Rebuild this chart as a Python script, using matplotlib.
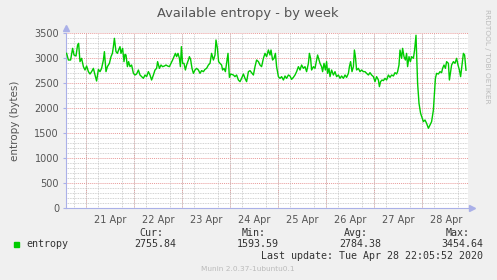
import numpy as np
import matplotlib
matplotlib.use('Agg')
import matplotlib.pyplot as plt
from matplotlib.ticker import MultipleLocator

# hours since 21 Apr 00:00, available entropy (bytes)
hours = [-9.7, -8.8, -7.7, -6.7, -6.0, -5.0, -4.2, -3.7, -3.0, -2.2, -1.3, -0.5,
         0.3, 1.2, 2.0, 2.8, 3.7, 4.5, 5.3, 6.2, 7.0, 7.8, 8.7, 9.2, 10.0, 10.7,
         11.7, 12.5, 13.2, 13.7, 14.2, 15.0, 15.7, 16.3, 17.0, 17.5, 18.3, 19.0,
         19.5, 20.0, 20.7, 21.3, 22.0, 22.8, 23.7, 24.5, 25.3, 26.2, 27.0, 27.8,
         28.7, 29.5, 30.3, 31.2, 32.0, 32.8, 33.7, 34.5, 35.3, 35.8, 36.7, 37.5,
         38.3, 39.2, 40.0, 40.8, 41.7, 42.5, 43.3, 44.0, 44.7, 45.3, 46.0, 46.7,
         47.2, 47.7, 48.3, 49.0, 49.7, 50.3, 51.2, 51.7, 52.3, 53.0, 53.7, 54.5,
         55.3, 56.2, 57.0, 57.8, 58.7, 59.5, 60.3, 61.2, 62.0, 62.8, 63.7, 64.5,
         65.0, 65.7, 66.3, 67.0, 67.8, 68.3, 69.0, 69.7, 70.3, 71.0, 71.7, 72.3,
         73.7, 74.5, 75.3, 76.2, 77.0, 77.8, 78.7, 79.5, 80.3, 81.2, 82.0, 82.8,
         83.7, 84.5, 85.3, 86.2, 87.0, 87.8, 88.7, 89.5, 90.3, 91.2, 92.0, 92.5,
         93.3, 94.0, 94.7, 95.3, 96.2, 97.0, 97.8, 98.7, 99.5, 100.3, 101.2, 102.0,
         102.8, 103.7, 104.5, 105.3, 106.2, 107.0, 107.8, 108.7, 109.5, 110.3,
         111.2, 111.7, 112.3, 112.8, 113.7, 114.5, 115.3, 115.8, 116.3, 117.0,
         117.8, 118.3, 119.0, 119.7, 120.3, 120.8, 121.5, 122.0, 122.8, 123.7,
         124.5, 125.3, 126.2, 127.0, 127.8, 128.7, 129.5, 130.3, 131.2, 131.7,
         132.3, 133.0, 133.7, 134.2, 134.7, 135.3, 136.2, 137.0, 137.8, 138.7,
         139.5, 140.3, 141.2, 142.0, 142.8, 143.7, 144.5, 145.3, 146.2, 146.7,
         147.3, 148.0, 148.7, 149.5, 150.3, 151.2, 152.0, 152.8, 153.7, 154.5,
         155.3, 155.8, 156.5, 157.0, 157.8, 158.3, 159.0, 159.7, 160.3, 160.8,
         161.5, 162.2, 162.8, 163.7, 164.3, 165.0, 165.3, 165.8, 166.5, 167.3,
         168.7, 169.5, 170.3, 171.2, 172.0, 172.8, 173.3, 173.7, 174.2, 174.7,
         175.3, 176.2, 177.0, 177.8, 178.3, 179.0, 179.7, 180.3, 181.2, 181.7,
         182.3, 182.8, 183.7, 184.5, 185.3, 186.0, 186.7, 187.3, 188.0, 188.7,
         189.3, 190.0]
entropy = [3093, 2960, 2960, 3193, 3060, 3040, 3260, 3293, 2927, 2993, 2827, 2760,
           2840, 2727, 2680, 2727, 2793, 2660, 2540, 2773, 2727, 2793, 2960, 3127,
           2727, 2827, 2893, 3027, 3093, 3227, 3393, 3127, 3093, 3160, 3227, 3093,
           3193, 2927, 3073, 3060, 2827, 2927, 2827, 2860, 2693, 2660, 2680, 2760,
           2660, 2627, 2593, 2660, 2627, 2727, 2660, 2560, 2660, 2760, 2793, 2927,
           2793, 2860, 2827, 2840, 2860, 2840, 2827, 2893, 2960, 3027, 3093, 3027,
           3093, 2993, 2827, 3227, 2893, 2893, 2760, 2860, 2960, 3027, 2973, 2793,
           2693, 2760, 2793, 2760, 2693, 2747, 2727, 2773, 2793, 2860, 2893, 3093,
           2960, 3060, 3360, 3193, 2927, 2893, 2860, 2760, 2793, 2727, 2893, 3093,
           2613, 2680, 2660, 2627, 2660, 2560, 2527, 2593, 2680, 2593, 2527, 2727,
           2747, 2707, 2660, 2827, 2960, 2927, 2860, 2827, 2993, 3093, 3027, 3160,
           3060, 3160, 2960, 2993, 3093, 2827, 2627, 2593, 2627, 2560, 2640, 2593,
           2660, 2640, 2573, 2613, 2660, 2727, 2827, 2760, 2860, 2793, 2827, 2727,
           2893, 3093, 2993, 2760, 2827, 2793, 2960, 3060, 2993, 2893, 2827, 2727,
           2893, 2760, 2927, 2693, 2793, 2627, 2760, 2660, 2727, 2627, 2660, 2593,
           2640, 2593, 2660, 2613, 2693, 2827, 2927, 2727, 2827, 3160, 3027, 2760,
           2793, 2727, 2760, 2727, 2727, 2693, 2660, 2707, 2660, 2627, 2527, 2627,
           2560, 2427, 2527, 2560, 2547, 2593, 2560, 2660, 2613, 2660, 2640, 2707,
           2680, 2727, 2860, 3160, 2993, 3193, 3027, 2960, 3093, 2827, 3027, 2927,
           3027, 2993, 3160, 3455, 3093, 2493, 2093, 1893, 1727, 1760, 1693, 1594,
           1660, 1727, 1860, 1960, 2293, 2593, 2693, 2680, 2727, 2707, 2793, 2860,
           2793, 2927, 2893, 2560, 2727, 2860, 2927, 2893, 2993, 2860, 2760, 2627,
           2860, 3093, 3060, 2756]

day_ticks = [12, 36, 60, 84, 108, 132, 156, 180]
day_labels = ['21 Apr', '22 Apr', '23 Apr', '24 Apr', '25 Apr', '26 Apr', '27 Apr', '28 Apr']

stat_names = ['Cur:', 'Min:', 'Avg:', 'Max:']
stat_values = ['2755.84', '1593.59', '2784.38', '3454.64']

bg = '#f0f0f0'
axis_col = '#aab0e8'
text_col = '#555555'

fig = plt.figure(figsize=(4.97, 2.80), dpi=100, facecolor=bg)
W, H = 497.0, 280.0
ax = fig.add_axes([66 / W, (H - 208) / H, 402 / W, 175 / H])
ax.set_facecolor('white')

ax.set_xlim(-10, 191)
ax.set_ylim(0, 3500)

# grid: minor grey, major red (midnights / every 500)
ax.xaxis.set_minor_locator(MultipleLocator(6))
ax.yaxis.set_minor_locator(MultipleLocator(100))
ax.set_xticks(day_ticks)
ax.set_xticklabels(day_labels)
ax.set_yticks(np.arange(0, 3501, 500))
ax.grid(which='minor', color='#c4c4c4', ls=(0, (1, 1)), lw=0.6)
for h in range(0, 191, 24):
    ax.axvline(h, color='#e89a9a', ls=(0, (1, 1)), lw=0.7, zorder=1)
for v in range(500, 3501, 500):
    ax.axhline(v, color='#e89a9a', ls=(0, (1, 1)), lw=0.7, zorder=1)

ax.plot(hours, entropy, color='#00cc00', lw=1.0, zorder=3)

for s in ['top', 'right']:
    ax.spines[s].set_visible(False)
for s in ['left', 'bottom']:
    ax.spines[s].set_color(axis_col)
    ax.spines[s].set_linewidth(0.8)
ax.plot([0], [1.03], marker='^', ms=4, color=axis_col, transform=ax.transAxes, clip_on=False)
ax.plot([1.01], [0], marker='>', ms=4, color=axis_col, transform=ax.transAxes, clip_on=False)

ax.tick_params(axis='both', which='both', colors=axis_col, labelcolor=text_col, labelsize=7)
ax.tick_params(axis='x', which='major', length=0, pad=5)
ax.tick_params(axis='x', which='minor', length=0)
ax.tick_params(axis='y', which='major', length=2, pad=3)
ax.tick_params(axis='y', which='minor', length=0)

ax.set_ylabel('entropy (bytes)', fontsize=7.5, color=text_col, labelpad=10)
fig.text(248 / W, 1 - 13 / H, 'Available entropy - by week', ha='center', va='center',
         fontsize=9.4, color=text_col)
fig.text(487 / W, 1 - 56 / H, 'RRDTOOL / TOBI OETIKER', rotation=270, ha='center',
         va='center', fontsize=5.3, color='#bbbbbb')

# legend block
mono = 'DejaVu Sans Mono'
fig.patches.append(plt.Rectangle((14 / W, 1 - 247 / H), 5 / W, 5 / H, color='#00cc00',
                                 transform=fig.transFigure, figure=fig))
fig.text(26 / W, 1 - 244 / H, 'entropy', ha='left', va='center', family=mono,
         fontsize=7.2, color='#333333')
value_ends = [176, 279, 381, 483]
for name, val, xe in zip(stat_names, stat_values, value_ends):
    fig.text((xe - 13) / W, 1 - 233 / H, name, ha='right', va='center', family=mono,
             fontsize=7.2, color='#333333')
    fig.text(xe / W, 1 - 244 / H, val, ha='right', va='center', family=mono,
             fontsize=7.2, color='#333333')
fig.text(483 / W, 1 - 256 / H, 'Last update: Tue Apr 28 22:05:52 2020', ha='right',
         va='center', family=mono, fontsize=7.2, color='#333333')
fig.text(248 / W, 1 - 269 / H, 'Munin 2.0.37-1ubuntu0.1', ha='center', va='center',
         fontsize=5.3, color='#bbbbbb')

fig.savefig('out.png', dpi=100, facecolor=bg)
